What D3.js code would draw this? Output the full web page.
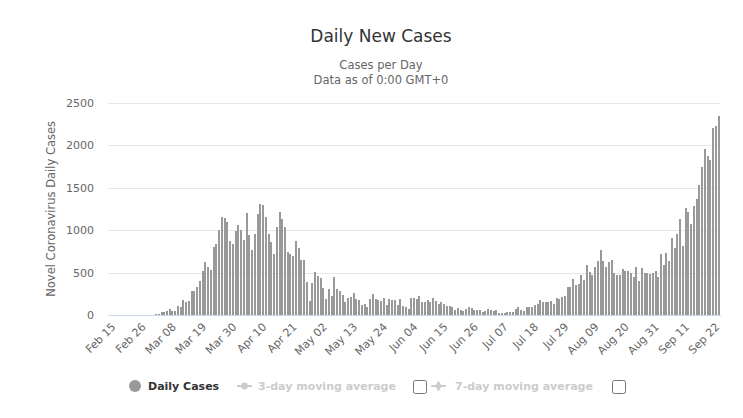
<!DOCTYPE html>
<html>
<head>
<meta charset="utf-8">
<script src="https://cdn.jsdelivr.net/npm/d3@7"></script>
<style>
  body { margin: 0; background: #ffffff; }
  .chart_content { width: 743px; height: 418px; }
  text { font-family: "DejaVu Sans", sans-serif; }
</style>
</head>
<body>
<div class="chart_content"></div>
<script>
// first and last day on the category axis
var firstDay = new Date(2020, 1, 15);
var lastDay = new Date(2020, 8, 24);

var tickLabels = ["Feb 15", "Feb 26", "Mar 08", "Mar 19", "Mar 30", "Apr 10", "Apr 21",
  "May 02", "May 13", "May 24", "Jun 04", "Jun 15", "Jun 26", "Jul 07", "Jul 18",
  "Jul 29", "Aug 09", "Aug 20", "Aug 31", "Sep 11", "Sep 22"];

var yTicks = [0, 500, 1000, 1500, 2000, 2500];

// daily new cases, Feb 15 .. Sep 24
var febCases = [0, 0, 0, 0, 0, 0, 0, 0, 0, 0, 0, 0, 1, 1, 2];
var marCases = [3, 5, 6, 10, 39, 39, 47, 74, 51, 51, 109, 98, 179, 148, 168, 277, 285, 331,
  402, 519, 624, 566, 530, 803, 831, 998, 1150, 1139, 1096, 866, 831];
var aprCases = [995, 1065, 1006, 889, 1205, 940, 761, 948, 1193, 1310, 1295, 1158, 952, 854,
  714, 1041, 1217, 1131, 1041, 737, 714, 690, 866, 784, 643, 643, 386, 168, 374, 503];
var mayCases = [456, 433, 316, 187, 304, 222, 445, 304, 288, 238, 155, 195, 214, 262, 190,
  179, 123, 135, 95, 190, 246, 183, 171, 167, 202, 119, 183, 171, 171, 119, 190];
var junCases = [103, 95, 71, 206, 198, 183, 226, 155, 155, 179, 155, 202, 167, 131, 155,
  131, 107, 103, 95, 60, 83, 60, 48, 71, 95, 83, 60, 60, 60, 36];
var julCases = [48, 71, 60, 48, 60, 24, 24, 24, 36, 36, 36, 71, 95, 60, 48, 95, 95, 95, 118,
  130, 177, 154, 154, 154, 169, 130, 197, 193, 217, 229, 327];
var augCases = [327, 422, 355, 366, 473, 414, 591, 512, 474, 568, 631, 764, 635, 568, 623,
  647, 498, 474, 474, 537, 513, 513, 490, 451, 568, 400, 549, 494, 490, 482, 490];
var sepCases = [517, 451, 717, 592, 733, 639, 909, 792, 953, 1133, 815, 1262, 1211, 1074,
  1282, 1368, 1529, 1744, 1952, 1870, 1823, 2199, 2223, 2340];

var legendLabels = ["Daily Cases", "3-day moving average", "7-day moving average"];

class DailyCasesChart {
    constructor(selector) {
        var formatDay = d3.timeFormat("%b %d");
        var days = d3.timeDay.range(firstDay, d3.timeDay.offset(lastDay, 1));
        var values = [].concat(febCases, marCases, aprCases, mayCases, junCases, julCases, augCases, sepCases);
        this.data = days.map(function(d, i) { return { cat: formatDay(d), cases: values[i] }; });

        this.margin = { top: 102.7, left: 108, right: 23, bottom: 103 };
        this.width = 743 - this.margin.left - this.margin.right;
        this.height = 315 - this.margin.top;

        this.root = d3.select(selector)
          .append("svg")
            .attr("width", 743)
            .attr("height", 418);

        this.svg = this.root.append("g")
            .attr("transform", "translate(" + this.margin.left + "," + this.margin.top + ")");
    }

    draw() {
        var self = this;
        var x = d3.scaleBand()
                  .domain(this.data.map(function(d) { return d.cat; }))
                  .range([0, this.width])
                  .paddingInner(0.27)
                  .paddingOuter(0.13);
        var y = d3.scaleLinear()
                  .domain([0, 2500])
                  .range([this.height, 0]);

        // grid lines
        this.svg.append("g")
            .attr("class", "grid")
            .call(d3.axisLeft(y).tickValues(yTicks).tickSize(-this.width).tickFormat(""))
            .call(function(g) { g.select(".domain").remove(); })
            .selectAll("line")
              .attr("stroke", "#e6e6e6")
              .attr("shape-rendering", "crispEdges");

        // y labels, no thousands separator
        this.svg.append("g")
            .attr("class", "axisY")
            .call(d3.axisLeft(y).tickValues(yTicks).tickSize(0).tickPadding(14).tickFormat(d3.format("d")))
            .call(function(g) { g.select(".domain").remove(); })
            .selectAll("text")
              .attr("fill", "#666666")
              .style("font-size", "11px");

        // bars
        this.svg.selectAll(".bar")
            .data(this.data)
            .enter().append("rect")
              .attr("class", "bar")
              .attr("x", function(d) { return x(d.cat); })
              .attr("width", x.bandwidth())
              .attr("y", function(d) { return y(d.cases); })
              .attr("height", function(d) { return self.height - y(d.cases); })
              .attr("fill", "#999999")
              .attr("shape-rendering", "crispEdges");

        // x axis
        var axisX = this.svg.append("g")
            .attr("class", "axisX")
            .attr("transform", "translate(0," + this.height + ")")
            .call(d3.axisBottom(x).tickValues(tickLabels).tickSize(0));
        axisX.select(".domain")
            .attr("stroke", "#ccd6eb")
            .attr("shape-rendering", "crispEdges");
        axisX.selectAll("text")
            .attr("fill", "#666666")
            .style("font-size", "11px")
            .style("text-anchor", "end")
            .attr("x", -4)
            .attr("y", 10)
            .attr("dy", "0.35em")
            .attr("transform", "rotate(-45)");

        // y axis title
        this.root.append("text")
            .attr("transform", "translate(55," + (this.margin.top + this.height / 2) + ") rotate(-90)")
            .attr("text-anchor", "middle")
            .attr("fill", "#666666")
            .style("font-size", "11.5px")
            .text("Novel Coronavirus Daily Cases");

        // titles
        this.root.append("text")
            .attr("x", 381).attr("y", 42)
            .attr("text-anchor", "middle")
            .attr("fill", "#333333")
            .style("font-size", "17px")
            .text("Daily New Cases");
        this.root.append("text")
            .attr("x", 381).attr("y", 69)
            .attr("text-anchor", "middle")
            .attr("fill", "#666666")
            .style("font-size", "11.5px")
            .text("Cases per Day");
        this.root.append("text")
            .attr("x", 381).attr("y", 84)
            .attr("text-anchor", "middle")
            .attr("fill", "#666666")
            .style("font-size", "11.5px")
            .text("Data as of 0:00 GMT+0");

        this.drawLegend();
    }

    drawLegend() {
        var legend = this.root.append("g").attr("class", "legend");
        var ly = 386;

        legend.append("circle")
            .attr("cx", 135).attr("cy", ly).attr("r", 6)
            .attr("fill", "#999999");
        legend.append("text")
            .attr("x", 148).attr("y", ly + 4)
            .attr("fill", "#333333")
            .style("font-size", "11px").style("font-weight", "bold")
            .text(legendLabels[0]);

        // inactive moving average items
        var items = [
            { lx: 237, tx: 258, box: 413, symbol: d3.symbolCircle, label: legendLabels[1] },
            { lx: 431, tx: 455, box: 612, symbol: d3.symbolDiamond, label: legendLabels[2] }
        ];
        items.forEach(function(it) {
            legend.append("line")
                .attr("x1", it.lx).attr("x2", it.lx + 15)
                .attr("y1", ly).attr("y2", ly)
                .attr("stroke", "#cccccc").attr("stroke-width", 2);
            legend.append("path")
                .attr("d", d3.symbol().type(it.symbol).size(36)())
                .attr("transform", "translate(" + (it.lx + 7.5) + "," + ly + ")")
                .attr("fill", "#cccccc");
            legend.append("text")
                .attr("x", it.tx).attr("y", ly + 4)
                .attr("fill", "#cccccc")
                .style("font-size", "11px").style("font-weight", "bold")
                .text(it.label);
            legend.append("rect")
                .attr("x", it.box + 0.5).attr("y", 380.5)
                .attr("width", 13).attr("height", 13).attr("rx", 2)
                .attr("fill", "#ffffff").attr("stroke", "#767676");
        });
    }
}

var chart = new DailyCasesChart(".chart_content");
chart.draw();
</script>
</body>
</html>
